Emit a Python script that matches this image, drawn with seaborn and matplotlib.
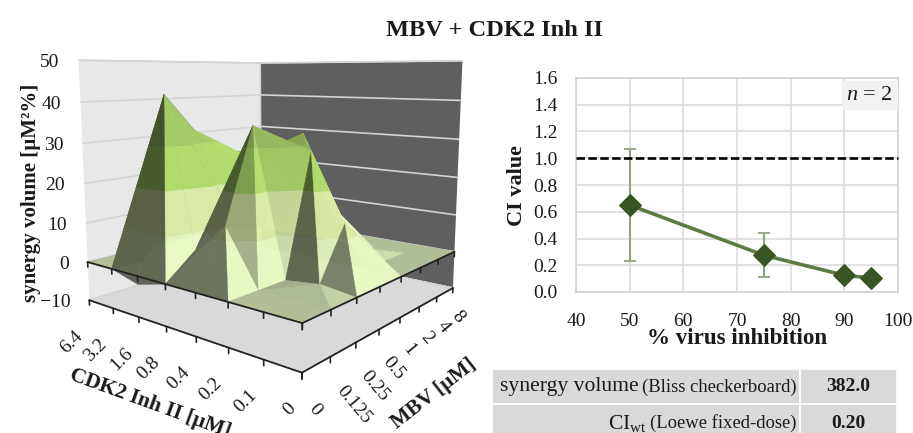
import numpy as np
import pandas as pd
import matplotlib
matplotlib.use("Agg")
import matplotlib.pyplot as plt
import seaborn as sns
from mpl_toolkits.mplot3d import proj3d
from mpl_toolkits.mplot3d.art3d import Poly3DCollection

# ---- data ----
cdk_labels = ["0", "0.1", "0.2", "0.4", "0.8", "1.6", "3.2", "6.4"]
mbv_labels = ["0", "0.125", "0.25", "0.5", "1", "2", "4", "8"]
# rows: CDK 6.4 -> 0, columns: MBV 0 -> 8
row_64 = [0, 0, 0, 0, 0, 0, 0, 0]
row_32 = [0, 0, 8, 6, 4, 2, 0, 0]
row_16 = [-2, 42, 33, 27, 25, 10, 0, 0]
row_08 = [0, 6, 16, 26, 26, 12, 0, 0]
row_04 = [0, 13, 35, 30, 32, 14, 0, 0]
row_02 = [0, 0, 0, 29, 13, 2, 0, 0]
row_01 = [0, 0, 1, 13, 0, 0, 0, 0]
row_00 = [0, 0, 0, 0, 0, 0, 0, 0]
z_ticks = [-10, 0, 10, 20, 30, 40, 50]
z_labels = ["\u221210", "0", "10", "20", "30", "40", "50"]

inhibition = [50, 75, 90, 95]
ci_value = [0.65, 0.275, 0.125, 0.105]
ci_upper = [1.07, 0.44, 0.125, 0.105]
ci_lower = [0.23, 0.11, 0.125, 0.105]

table_left_big = ["synergy volume", "CI$_{\\mathrm{wt}}$"]
table_left_small = ["(Bliss checkerboard)", "(Loewe fixed-dose)"]
table_values = ["382.0", "0.20"]

title = "MBV + CDK2 Inh II"

# ---- style ----
W, H = 913, 433
sns.set_theme(style="whitegrid")
FONT = "Liberation Serif"
plt.rcParams["font.family"] = [FONT, "DejaVu Serif"]
plt.rcParams["mathtext.fontset"] = "custom"
plt.rcParams["mathtext.rm"] = FONT
plt.rcParams["mathtext.it"] = FONT + ":italic"
plt.rcParams["mathtext.bf"] = FONT + ":bold"
TXT = "#1a1a1a"

fig = plt.figure(figsize=(W / 100, H / 100), dpi=100, facecolor="white")


def px_axes(x0, y0, x1, y1, **kw):
    return fig.add_axes([x0 / W, 1 - y1 / H, (x1 - x0) / W, (y1 - y0) / H], **kw)


fig.text(494 / W, 1 - 30 / H, title, ha="center", va="center",
         fontsize=17.6, fontweight="bold", color=TXT)

# ---- 3D surface ----
Z = np.array([row_00, row_01, row_02, row_04, row_08, row_16, row_32, row_64], dtype=float)
# Z[y, x], y = CDK index from 0 upward, x = MBV index
ny, nx = Z.shape

ax3 = px_axes(-10, -40, 550, 413, projection="3d", computed_zorder=False)
ax3.patch.set_alpha(0)
ax3.view_init(elev=9, azim=-141)
ax3.set_proj_type("persp", focal_length=0.28)
ax3.set_box_aspect((1, 1, 0.89), zoom=0.95)

bands = [-10, 0, 10, 20, 30, 40, 50]
band_rgb = np.array([
    (232, 238, 215), (232, 250, 195), (222, 240, 170),
    (182, 225, 112), (172, 208, 108), (172, 208, 108)]) / 255.0
light = np.array([0.3, -1.0, 0.5])
light = light / np.linalg.norm(light)


def clip(poly, lim, keep_above):
    out = []
    n = len(poly)
    for a in range(n):
        p, q = poly[a], poly[(a + 1) % n]
        pin = p[2] >= lim if keep_above else p[2] <= lim
        qin = q[2] >= lim if keep_above else q[2] <= lim
        if pin:
            out.append(p)
        if pin != qin:
            t = (lim - p[2]) / (q[2] - p[2])
            out.append(tuple(np.array(p) + t * (np.array(q) - np.array(p))))
    return out


def add_tri(tri, polys, cols):
    a, b, c = [np.array(v, dtype=float) for v in tri]
    s = a * [1, 1, 0.1], b * [1, 1, 0.1], c * [1, 1, 0.1]
    n = np.cross(s[1] - s[0], s[2] - s[0])
    n = n / np.linalg.norm(n)
    if n[2] < 0:
        n = -n
    shade = np.clip(0.40 + 0.85 * n.dot(light), 0.40, 1.0)
    for k in range(len(bands) - 1):
        p = clip(list(tri), bands[k], True)
        if len(p) >= 3:
            p = clip(p, bands[k + 1], False)
        if len(p) >= 3:
            polys.append(p)
            cols.append((*np.clip(band_rgb[k] * shade, 0, 1), 0.96))


polys, cols = [], []
for y in range(ny - 1):
    for x in range(nx - 1):
        c00 = (x, y, Z[y, x])
        c10 = (x + 1, y, Z[y, x + 1])
        c01 = (x, y + 1, Z[y + 1, x])
        c11 = (x + 1, y + 1, Z[y + 1, x + 1])
        corners = [c00, c10, c11, c01]
        top = int(np.argmax([v[2] for v in corners]))
        if top in (0, 2):
            tris = [(c00, c10, c11), (c00, c11, c01)]
        else:
            tris = [(c00, c10, c01), (c10, c11, c01)]
        for t in tris:
            add_tri(t, polys, cols)

surf = Poly3DCollection(polys, facecolors=cols, edgecolors=cols, linewidths=0.25,
                        zsort="average", zorder=2)
ax3.add_collection3d(surf, autolim=False)
ax3.set_xlim(0, nx - 1)
ax3.set_ylim(0, ny - 1)
ax3.set_zlim(-10, 50)

ax3.xaxis.set_pane_color("#5f5f5f")
ax3.yaxis.set_pane_color("#e8e8e8")
ax3.zaxis.set_pane_color("#d9d9d9")
ax3.xaxis.pane.set_edgecolor("#cfcfcf")
ax3.yaxis.pane.set_edgecolor("#cfcfcf")
ax3.zaxis.pane.set_edgecolor("#d9d9d9")

ax3.set_xticks(range(nx))
ax3.set_yticks(range(ny))
ax3.set_zticks(z_ticks)
ax3.set_xticklabels([])
ax3.set_yticklabels([])
ax3.set_zticklabels([])
for a in (ax3.xaxis, ax3.yaxis, ax3.zaxis):
    a._axinfo["tick"]["inward_factor"] = 0
    a._axinfo["tick"]["outward_factor"] = 0
    a.line.set_color("none")
ax3.xaxis._axinfo["grid"]["linewidth"] = 0
ax3.yaxis._axinfo["grid"]["linewidth"] = 0
ax3.zaxis._axinfo["grid"].update(color="#d4d4d4", linewidth=1.2, linestyle="-")

# axis edges and tick stubs at the zero plane and on the floor
for level in (0, -10):
    ax3.plot([0, 0], [0, ny - 1], [level, level], color="#222222", lw=1.3, zorder=4)
    ax3.plot([0, nx - 1], [0, 0], [level, level], color="#222222", lw=1.3, zorder=4)
    for v in range(ny):
        ax3.plot([0, 0], [v, v], [level, level - 1.3], color="#222222", lw=1.2, zorder=4)
    for v in range(nx):
        ax3.plot([v, v], [0, 0], [level, level - 1.3], color="#222222", lw=1.2, zorder=4)

# tick labels hung off the projected tick positions
fig.canvas.draw()


def tick_px(x, y, z):
    px, py, _ = proj3d.proj_transform(x, y, z, ax3.M)
    return ax3.transData.transform((px, py))


def hang(x, y, z, dx, dy, s, **kw):
    p = tick_px(x, y, z)
    fig.text((p[0] + dx) / W, (p[1] - dy) / H, s, fontsize=14, color=TXT,
             rotation_mode="anchor", **kw)


for k, s in enumerate(cdk_labels):
    hang(0, k, -10, -9, 33, s, rotation=45, ha="right", va="center")
for k, s in enumerate(mbv_labels):
    hang(k, 0, -10, 10 - 8 * k / (nx - 1), 33 - 8 * k / (nx - 1), s, rotation=-50, ha="left", va="center")
for v, s in zip(z_ticks, z_labels):
    hang(0, ny - 1, v, -19, 2, s, ha="right", va="center")

fig.text(31 / W, 1 - 193 / H, "synergy volume [\u00b5M\u00b2%]", rotation=90, ha="center",
         va="center", fontsize=15, fontweight="bold", color=TXT)
fig.text(150 / W, 1 - 404 / H, "CDK2 Inh II [\u00b5M]", rotation=-20, ha="center",
         va="center", fontsize=15.5, fontweight="bold", color=TXT, rotation_mode="anchor")
fig.text(434 / W, 1 - 394 / H, "MBV [\u00b5M]", rotation=38, ha="center",
         va="center", fontsize=15.5, fontweight="bold", color=TXT, rotation_mode="anchor")

# ---- CI plot ----
ax = px_axes(576, 78, 898, 292)
df = pd.DataFrame({"inhibition": inhibition, "ci": ci_value})
lo = np.array(ci_value) - np.array(ci_lower)
up = np.array(ci_upper) - np.array(ci_value)
ax.errorbar(inhibition, ci_value, yerr=[lo, up], fmt="none", ecolor="#8ea37f", elinewidth=1.5,
            capsize=4.5, capthick=1.3, zorder=3)
sns.lineplot(data=df, x="inhibition", y="ci", ax=ax, color="#5c7b45", lw=2.6, marker="D",
             markersize=11.5, markerfacecolor="#375623", markeredgecolor="#375623", zorder=4)
ax.axhline(1.0, color="black", ls=(0, (3.2, 1.3)), lw=1.9, zorder=5, clip_on=False)
ax.set_xlim(40, 100)
ax.set_ylim(0, 1.6)
ax.set_xticks(range(40, 101, 10))
ax.set_yticks(np.arange(0, 1.61, 0.2))
ax.set_yticklabels([f"{v:.1f}" for v in np.arange(0, 1.61, 0.2)])
ax.grid(True, color="#d9d9d9", lw=1.1)
ax.set_axisbelow(True)
for s in ax.spines.values():
    s.set_color("#d0d0d0")
    s.set_linewidth(1.1)
ax.tick_params(axis="y", labelsize=14, labelcolor=TXT, length=0, pad=13)
ax.tick_params(axis="x", labelsize=14, labelcolor=TXT, pad=10, length=5, color="#c8c8c8", direction="out")
ax.set_xlabel("% virus inhibition", fontsize=16.6, fontweight="bold", color=TXT, labelpad=-1)
ax.set_ylabel("CI value", fontsize=16, fontweight="bold", color=TXT, labelpad=5)
ax.text(0.985, 0.92, "$n$ = 2", transform=ax.transAxes, ha="right", va="center", fontsize=16,
        color=TXT, bbox=dict(facecolor="#f2f2f2", edgecolor="none", pad=3.5))

# ---- summary table ----
tb = px_axes(492, 369, 897, 433)
tb.axis("off")
tbl = tb.table(cellText=[["", ""], ["", ""]], cellColours=[["#d9d9d9"] * 2] * 2,
               colWidths=[0.76, 0.24], bbox=[0, -0.1, 1, 1.1])
for c in tbl.get_celld().values():
    c.set_edgecolor("white")
    c.set_linewidth(1.2)
for i, yy in enumerate((0.72, 0.156)):
    small = tb.text(0.753, yy, table_left_small[i], ha="right", va="center", fontsize=13.4, color=TXT)
    fig.canvas.draw()
    bb = small.get_window_extent().transformed(tb.transAxes.inverted())
    tb.text(bb.x0 - 0.008, yy, table_left_big[i], ha="right", va="center", fontsize=15.6, color=TXT)
    tb.text(0.88, yy, table_values[i], ha="center", va="center", fontsize=14,
            fontweight="bold", color=TXT)

fig.savefig("out.png", dpi=100, facecolor="white")
